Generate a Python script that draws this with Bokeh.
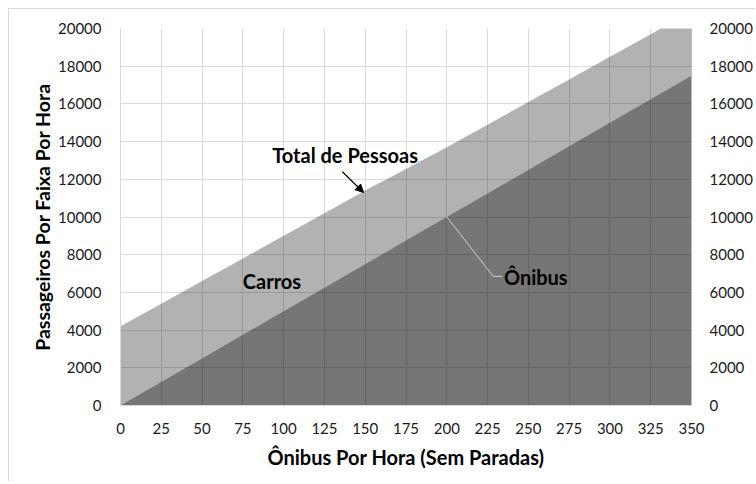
from bokeh.plotting import figure
from bokeh.models import (LinearAxis, FixedTicker, Range1d, Label, Arrow,
                          NormalHead, ColumnDataSource)
from bokeh.embed import file_html
from bokeh.resources import INLINE

# ---- data ----
onibus_por_hora = [0, 25, 50, 75, 100, 125, 150, 175, 200, 225, 250, 275, 300, 325, 350]
passageiros_onibus = [0, 1250, 2500, 3750, 5000, 6250, 7500, 8750, 10000,
                      11250, 12500, 13750, 15000, 16250, 17500]
total_pessoas = [4200, 5400, 6600, 7800, 9000, 10200, 11400, 12550, 13700,
                 14900, 16100, 17300, 18500, 19700, 20900]

x_ticks = [0, 25, 50, 75, 100, 125, 150, 175, 200, 225, 250, 275, 300, 325, 350]
y_ticks = [0, 2000, 4000, 6000, 8000, 10000, 12000, 14000, 16000, 18000, 20000]

x_title = "Ônibus Por Hora (Sem Paradas)"
y_title = "Passageiros Por Faixa Por Hora"

# annotation anchors (data coords)
label_total = ("Total de Pessoas", 93, 13300)
label_carros = ("Carros", 75, 6600)
label_onibus = ("Ônibus", 235, 6800)
arrow_total = (136, 12400, 149, 11300)
leader_onibus_x = [200, 228.5, 234]
leader_onibus_y = [10000, 6850, 6850]

FONT = "Lato"

p = figure(output_backend="svg", toolbar_location=None,
           frame_width=571, frame_height=377,
           min_border_left=111, min_border_right=64,
           min_border_top=19, min_border_bottom=76,
           x_range=Range1d(0, 350), y_range=Range1d(0, 20000),
           background_fill_color="white", border_fill_color="white")
p.outline_line_color = None
p.styles = {"margin-left": "8px", "margin-top": "8px",
            "border-left": "1px solid #d9d9d9", "border-top": "1px solid #d9d9d9"}

src = ColumnDataSource(dict(x=onibus_por_hora, bus=passageiros_onibus,
                            total=total_pessoas))
p.varea(x="x", y1=0, y2="total", source=src, fill_color="black", fill_alpha=0.30)
p.varea(x="x", y1=0, y2="bus", source=src, fill_color="black", fill_alpha=0.333)

# grid
p.xgrid.ticker = FixedTicker(ticks=x_ticks)
p.ygrid.ticker = FixedTicker(ticks=y_ticks)
for g in (p.xgrid[0], p.ygrid[0]):
    g.grid_line_color = "#dcdcdc"
    g.grid_line_width = 1
    g.level = "underlay"

def style_axis(ax, standoff):
    ax.major_tick_line_color = None
    ax.minor_tick_line_color = None
    ax.major_label_standoff = standoff
    ax.major_label_text_font = FONT
    ax.major_label_text_font_size = "15px"
    ax.major_label_text_color = "#1a1a1a"
    ax.axis_line_color = "#d9d9d9"

p.xaxis.ticker = FixedTicker(ticks=x_ticks)
p.yaxis.ticker = FixedTicker(ticks=y_ticks)
style_axis(p.xaxis[0], 11)
style_axis(p.yaxis[0], 13)

p.xaxis.axis_label = x_title
p.yaxis.axis_label = y_title
for ax, sz, so in ((p.xaxis[0], "20px", 8), (p.yaxis[0], "19.5px", 1)):
    ax.axis_label_text_font = FONT
    ax.axis_label_text_font_style = "bold"
    ax.axis_label_text_font_size = sz
    ax.axis_label_text_color = "black"
    ax.axis_label_standoff = so

right = LinearAxis(ticker=FixedTicker(ticks=y_ticks))
style_axis(right, 12)
right.axis_line_color = "#bdbdbd"
p.add_layout(right, "right")

# annotations
for txt, lx, ly in (label_total, label_carros, label_onibus):
    p.add_layout(Label(x=lx, y=ly, text=txt, text_font=FONT,
                       text_font_style="bold", text_font_size="20px",
                       text_color="black", text_baseline="alphabetic"))

p.add_layout(Arrow(x_start=arrow_total[0], y_start=arrow_total[1],
                   x_end=arrow_total[2], y_end=arrow_total[3],
                   line_color="black", line_width=1.2,
                   end=NormalHead(size=8, fill_color="black", line_color="black")))

p.line(leader_onibus_x, leader_onibus_y, line_color="#d0d0d0", line_width=1)

open("out.html", "w").write(file_html(p, INLINE))
